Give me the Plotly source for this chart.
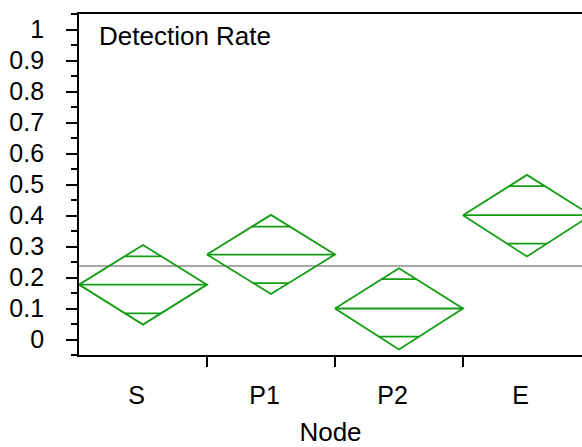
import plotly.graph_objects as go

categories = ["S", "P1", "P2", "E"]
means = [0.177, 0.274, 0.100, 0.401]
ci_upper = [0.305, 0.402, 0.230, 0.531]
ci_lower = [0.048, 0.147, -0.032, 0.268]
overlap_upper = [0.268, 0.364, 0.195, 0.495]
overlap_lower = [0.084, 0.182, 0.009, 0.309]
grand_mean = 0.237
y_ticks = [0, 0.1, 0.2, 0.3, 0.4, 0.5, 0.6, 0.7, 0.8, 0.9, 1]

GREEN = "#129c12"
LW = 1.8
fig = go.Figure()

for i, cat in enumerate(categories):
    m, hi, lo = means[i], ci_upper[i], ci_lower[i]
    left, right = i - 0.5, i + 0.5
    fig.add_trace(go.Scatter(
        x=[left, i, right, i, left],
        y=[m, hi, m, lo, m],
        mode="lines", line=dict(color=GREEN, width=LW),
        hoverinfo="skip", showlegend=False))
    fig.add_trace(go.Scatter(
        x=[left, right], y=[m, m],
        mode="lines", line=dict(color=GREEN, width=LW),
        hoverinfo="skip", showlegend=False))
    for ov, ext in ((overlap_upper[i], hi), (overlap_lower[i], lo)):
        frac = (ov - m) / (ext - m)
        half = 0.5 * (1 - frac)
        fig.add_trace(go.Scatter(
            x=[i - half, i + half], y=[ov, ov],
            mode="lines", line=dict(color=GREEN, width=LW),
            hoverinfo="skip", showlegend=False))

fig.add_shape(type="line", xref="x domain", x0=0, x1=1, yref="y",
              y0=grand_mean, y1=grand_mean,
              line=dict(color="#8a8a8a", width=1.6), layer="below")

fig.add_annotation(text="Detection Rate", xref="paper", yref="paper",
                   x=0.036, y=0.985, xanchor="left", yanchor="top",
                   showarrow=False, font=dict(size=26, color="black"))

fig.update_layout(
    width=582, height=447,
    margin=dict(l=79, r=0, t=14, b=92),
    paper_bgcolor="white", plot_bgcolor="white",
    font=dict(family="Liberation Sans, Arial, sans-serif", size=25, color="black"),
    xaxis=dict(
        range=[-0.5, 3.43], tickmode="array",
        tickvals=[i - 0.05 for i in range(len(categories))], ticktext=categories,
        ticks="", showgrid=False, zeroline=False,
        showline=True, linecolor="black", linewidth=1.8, mirror=True,
        ticklabelstandoff=17,
        minor=dict(tickmode="array", tickvals=[0.5, 1.5, 2.5],
                   ticks="outside", ticklen=10, tickwidth=1.6,
                   tickcolor="black", showgrid=False),
        title=dict(text="Node", font=dict(size=26), standoff=17),
        tickfont=dict(size=25),
    ),
    yaxis=dict(
        range=[-0.05, 1.05], tickmode="array", tickvals=y_ticks,
        ticks="outside", ticklen=11, tickwidth=1.6, tickcolor="black",
        showgrid=False, zeroline=False,
        showline=True, linecolor="black", linewidth=1.8,
        ticklabelstandoff=17,
        minor=dict(dtick=0.05, tick0=0, ticks="outside", ticklen=6,
                   tickwidth=1.6, tickcolor="black", showgrid=False),
        tickfont=dict(size=25),
    ),
)

fig.write_html("out.html", config={"displayModeBar": False},
               post_script="document.body.style.margin='0';")
